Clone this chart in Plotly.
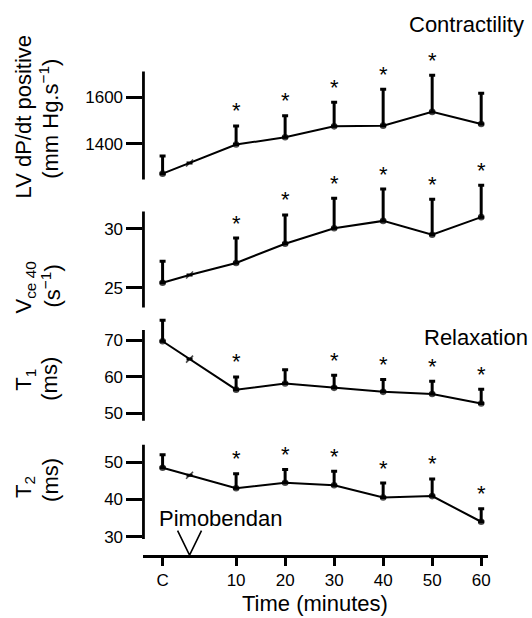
import plotly.graph_objects as go

# ---------------- data ----------------
times = [-5, 0.5, 10, 20, 30, 40, 50, 60]          # C, pimobendan, 10..60 min
x_tickvals = [-5, 10, 20, 30, 40, 50, 60]
x_ticktext = ["C", "10", "20", "30", "40", "50", "60"]
pimobendan_time = 0.5

dpdt_mean = [1272, 1318, 1397, 1428, 1475, 1478, 1537, 1485]
dpdt_sd = [76, None, 80, 92, 103, 156, 157, 132]
dpdt_sig = [0, 0, 1, 1, 1, 1, 1, 0]

vce_mean = [25.42, 26.07, 27.10, 28.73, 30.05, 30.67, 29.49, 30.99]
vce_sd = [1.83, None, 2.11, 2.45, 2.54, 2.70, 3.01, 2.71]
vce_sig = [0, 0, 1, 1, 1, 1, 1, 1]

t1_mean = [69.8, 64.9, 56.5, 58.2, 57.0, 55.9, 55.3, 52.7]
t1_sd = [5.8, None, 3.5, 3.8, 3.45, 3.4, 3.5, 3.9]
t1_sig = [0, 0, 1, 0, 1, 1, 1, 1]

t2_mean = [48.5, 46.5, 43.0, 44.5, 43.8, 40.5, 40.9, 34.0]
t2_sd = [3.5, None, 3.9, 3.55, 3.8, 3.9, 4.6, 3.5]
t2_sig = [0, 0, 1, 1, 1, 1, 1, 1]

# ---------------- layout geometry (pixels) ----------------
W, H = 532, 618
FONT = "Liberation Sans, Arial, Helvetica, sans-serif"


def pxx(p):
    return p / W


def pxy(p):
    return 1 - p / H


# x axis: 10 min at px 237, 4.92 px per minute, axis line from 144 to 490
X_REF_PX, X_REF_V, X_SCALE = 237, 10, 4.92
X_DOM = (144, 490)
x_range = [X_REF_V - (X_REF_PX - X_DOM[0]) / X_SCALE,
           X_REF_V + (X_DOM[1] - X_REF_PX) / X_SCALE]
X_AXIS_PX = 560.7

panels = [
    dict(mean=dpdt_mean, sd=dpdt_sd, sig=dpdt_sig, ticks=[1400, 1600],
         ref_px=145, ref_v=1400, scale=0.235, dom=(45, 188), line=(72, 181),
         labels=[("LV dP/dt positive", 24, 117.5),
                 ("(mm Hg.s<sup>−1</sup>)", 49, 120)]),
    dict(mean=vce_mean, sd=vce_sd, sig=vce_sig, ticks=[25, 30],
         ref_px=290, ref_v=25, scale=11.87, dom=(160, 314), line=(213.3, 310),
         labels=[("V<sub>ce 40</sub>", 25, 290),
                 ("(s<sup>−1</sup>)", 51, 288)]),
    dict(mean=t1_mean, sd=t1_sd, sig=t1_sig, ticks=[50, 60, 70],
         ref_px=416.7, ref_v=50, scale=3.67, dom=(318, 430), line=(332.7, 424.3),
         labels=[("T<sub>1</sub>", 25, 383),
                 ("(ms)", 50, 382)]),
    dict(mean=t2_mean, sd=t2_sd, sig=t2_sig, ticks=[30, 40, 50],
         ref_px=541, ref_v=30, scale=3.75, dom=(445, 546), line=(448.3, 543.3),
         labels=[("T<sub>2</sub>", 25, 491),
                 ("(ms)", 50, 484)]),
]


def v_at(p, panel):
    return panel["ref_v"] + (panel["ref_px"] - p) / panel["scale"]


fig = go.Figure()
annotations = []
shapes = []
layout_axes = {}

symbols = ["line-ne" if t == pimobendan_time else "circle" for t in times]
sizes = [7 if t == pimobendan_time else 5 for t in times]

for i, pn in enumerate(panels, start=1):
    yname = "y" if i == 1 else f"y{i}"
    ykey = "yaxis" if i == 1 else f"yaxis{i}"
    fig.add_trace(go.Scatter(
        x=times, y=pn["mean"], xaxis="x", yaxis=yname,
        mode="lines+markers",
        line=dict(color="black", width=2),
        marker=dict(color="black", size=sizes, symbol=symbols,
                    line=dict(color="black", width=1.6)),
        error_y=dict(type="data", symmetric=False, array=pn["sd"],
                     arrayminus=[0] * len(times), color="black",
                     thickness=3, width=3),
        showlegend=False, hoverinfo="skip", cliponaxis=False,
    ))
    top, bot = pn["dom"]
    layout_axes[ykey] = dict(
        domain=[pxy(bot), pxy(top)],
        range=[v_at(bot, pn), v_at(top, pn)],
        anchor="x", showline=False, showgrid=False, zeroline=False,
        ticks="outside", ticklen=16, tickwidth=2.5, tickcolor="black",
        tickvals=pn["ticks"],
        tickfont=dict(family=FONT, size=17, color="black"),
    )
    # axis line
    shapes.append(dict(type="line", xref="paper", yref=yname,
                       x0=pxx(X_DOM[0]), x1=pxx(X_DOM[0]),
                       y0=v_at(pn["line"][1], pn), y1=v_at(pn["line"][0], pn),
                       line=dict(color="black", width=2.8)))
    # significance stars
    for t, m, s, g in zip(times, pn["mean"], pn["sd"], pn["sig"]):
        if g:
            annotations.append(dict(x=t, y=m + s, xref="x", yref=yname,
                                    text="*", showarrow=False,
                                    yanchor="middle", xanchor="center",
                                    yshift=15,
                                    font=dict(family=FONT, size=22, color="black")))
    # axis labels
    for txt, lx, ly in pn["labels"]:
        annotations.append(dict(x=pxx(lx), y=pxy(ly), xref="paper", yref="paper",
                                text=txt, textangle=-90, showarrow=False,
                                xanchor="center", yanchor="middle",
                                font=dict(family=FONT, size=22, color="black")))

# section labels and x title
for txt, lx, ly in [("Contractility", 468, 25), ("Relaxation", 477.5, 340.5),
                    ("Pimobendan", 222, 522.5), ("Time (minutes)", 316, 608)]:
    annotations.append(dict(x=pxx(lx), y=pxy(ly), xref="paper", yref="paper",
                            text=txt, showarrow=False,
                            xanchor="center", yanchor="middle",
                            font=dict(family=FONT, size=22, color="black")))

# pimobendan V marker
half_w = 12 / X_SCALE
v_top, v_tip = pxy(535), pxy(X_AXIS_PX - 1)
shapes.append(dict(type="path", xref="x", yref="paper",
                   path=f"M {pimobendan_time - half_w} {v_top} L {pimobendan_time} {v_tip} "
                        f"L {pimobendan_time + half_w} {v_top}",
                   line=dict(color="black", width=1.6)))

fig.update_layout(
    width=W, height=H, autosize=False,
    margin=dict(l=0, r=0, t=0, b=0),
    paper_bgcolor="white", plot_bgcolor="rgba(0,0,0,0)",
    xaxis=dict(domain=[pxx(X_DOM[0]), pxx(X_DOM[1])], range=x_range,
               anchor="free", position=pxy(X_AXIS_PX),
               showline=True, linecolor="black", linewidth=2.8,
               showgrid=False, zeroline=False,
               ticks="outside", ticklen=8, tickwidth=2.5, tickcolor="black",
               tickvals=x_tickvals, ticktext=x_ticktext,
               tickfont=dict(family=FONT, size=17, color="black")),
    annotations=annotations, shapes=shapes,
    **layout_axes,
)

fig.write_html("out.html", config={"displayModeBar": False},
               post_script="document.body.style.margin='0';"
                           "document.body.style.overflow='hidden';")
